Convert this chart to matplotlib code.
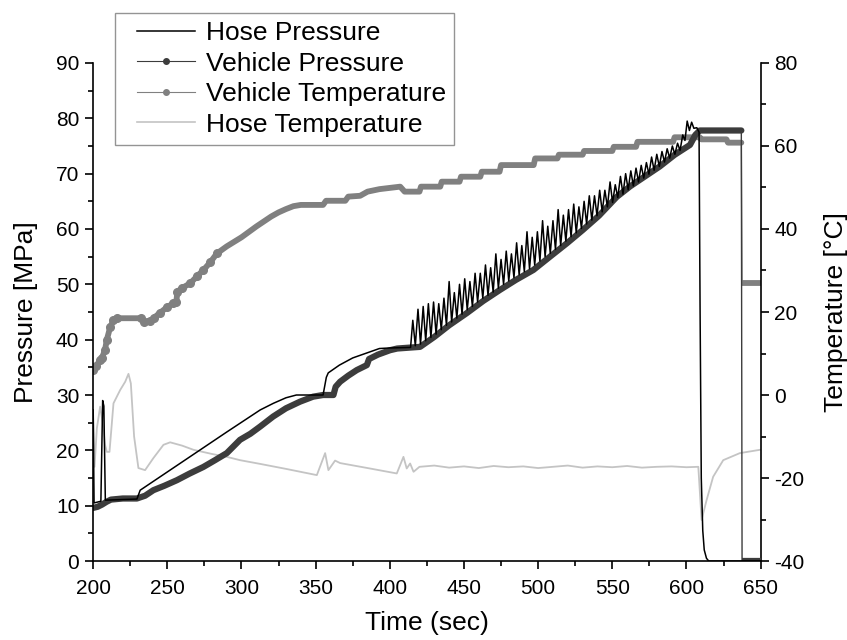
import matplotlib
matplotlib.use("Agg")
import matplotlib.pyplot as plt
from matplotlib.lines import Line2D
from matplotlib.legend_handler import HandlerLine2D

plt.rcParams['font.family'] = ['Liberation Sans', 'DejaVu Sans']
plt.rcParams['axes.unicode_minus'] = False

# ---------------- data ----------------
hose_p_t = [200.0, 200.6, 205.2, 206.4, 207.2, 208.2, 229.5, 231.7, 250.0, 270.0, 290.0, 299.0,
            312.6, 321.5, 330.0, 337.0, 355.0, 356.0, 357.2, 358.5, 366.0, 375.0, 384.5, 393.0,
            400.0, 414.0,
            415.5, 417.2, 419.0, 420.7, 422.5, 424.2, 426.0, 427.7, 429.5, 431.2, 433.0, 434.7,
            436.5, 438.2, 440.0, 441.7, 443.5, 445.2, 447.0, 448.7, 450.5, 452.2, 454.0, 455.7,
            457.5, 459.2, 461.0, 462.7, 464.5, 466.2, 468.0, 469.7, 471.5, 473.2, 475.0, 476.7,
            478.5, 480.2, 482.0, 483.7, 485.5, 487.2, 489.0, 490.7, 492.5, 494.2, 496.0, 497.7,
            499.5, 501.2, 503.0, 504.7, 506.5, 508.2, 510.0, 511.7, 513.5, 515.2, 517.0, 518.7,
            520.5, 522.2, 524.0, 525.7, 527.5, 529.2, 531.0, 532.7, 534.5, 536.2, 538.0, 539.7,
            541.5, 543.2, 545.0, 546.7, 548.5, 550.2, 552.0, 553.7, 555.5, 557.2, 559.0, 560.7,
            562.5, 564.2, 566.0, 567.7, 569.5, 571.2, 573.0, 574.7, 576.5, 578.2, 580.0, 581.7,
            583.5, 585.2, 587.0, 588.7, 590.5, 592.2, 594.0, 595.7, 597.5, 599.0, 600.5, 602.0,
            603.5, 605.0, 607.0, 608.5, 609.2, 610.0, 611.0, 612.0, 613.5, 615.0, 650.0]
hose_p = [27.3, 10.5, 10.8, 29.0, 28.0, 11.0, 11.2, 12.8, 16.1, 19.7, 23.3, 24.9,
          27.3, 28.5, 29.5, 30.0, 30.0, 31.5, 33.2, 34.0, 35.4, 36.7, 37.6, 38.4,
          38.5, 38.6,
          43.5, 38.9, 45.5, 39.2, 46.0, 39.8, 46.5, 40.4, 46.8, 41.0, 46.5, 41.8,
          47.5, 42.6, 50.5, 43.2, 48.5, 43.9, 50.0, 44.6, 51.0, 45.4, 50.5, 46.0,
          52.0, 46.8, 52.0, 47.5, 53.5, 48.0, 53.0, 48.6, 55.5, 49.3, 54.5, 50.0,
          56.0, 50.6, 55.5, 51.2, 57.5, 51.7, 57.0, 52.3, 59.5, 52.8, 58.5, 53.5,
          59.5, 54.2, 61.5, 55.0, 60.5, 55.6, 61.5, 56.3, 63.5, 57.0, 62.5, 57.8,
          63.5, 58.6, 64.5, 59.3, 64.0, 60.1, 65.0, 60.9, 66.0, 61.6, 66.0, 62.4,
          67.0, 63.1, 67.0, 64.0, 68.5, 64.8, 68.0, 65.7, 69.5, 66.3, 70.0, 67.1,
          70.5, 67.8, 71.0, 68.5, 71.5, 69.2, 72.0, 69.9, 73.0, 70.6, 73.5, 71.3,
          74.0, 72.1, 74.5, 72.8, 75.0, 73.5, 75.5, 74.2, 77.0, 76.0, 79.5, 77.8,
          79.3, 78.2, 78.3, 77.5, 45.0, 15.0, 5.5, 2.0, 0.5, 0.0, 0.0]

veh_p_t = [200.0, 203.0, 206.0, 209.0, 212.0, 220.0, 229.5, 235.0, 240.6, 248.0, 256.4, 265.0,
           274.3, 282.0, 290.1, 299.0, 306.0, 312.6, 321.3, 330.0, 339.5, 348.3, 355.0, 362.0,
           363.5, 366.5, 372.0, 377.7, 384.5, 386.0, 392.0, 400.2, 405.0, 420.4, 430.0, 440.0,
           451.9, 463.0, 474.3, 485.0, 496.8, 508.0, 519.3, 530.0, 541.0, 553.0, 562.0, 572.0,
           582.0, 592.0, 602.4, 606.0, 609.0, 637.0, 637.5, 650.0]
veh_p = [9.6, 9.8, 10.2, 10.7, 11.1, 11.3, 11.3, 11.8, 12.8, 13.6, 14.6, 15.8,
         17.0, 18.2, 19.5, 21.9, 23.0, 24.3, 26.1, 27.6, 28.8, 29.7, 30.0, 30.0,
         31.5, 32.4, 33.5, 34.5, 35.4, 36.5, 37.3, 38.1, 38.4, 38.7, 40.5, 42.6,
         44.8, 47.0, 49.0, 50.8, 52.6, 55.0, 57.4, 59.8, 62.4, 65.8, 67.7, 69.5,
         71.3, 73.4, 75.2, 77.0, 77.8, 77.8, 0.0, 0.0]

veh_t_t = [200.0, 202.0, 204.7, 206.0, 208.0, 209.2, 211.5, 213.7, 216.0, 232.0, 234.0, 238.4,
           241.0, 245.0, 250.0, 254.0, 256.0, 256.8, 260.0, 265.4, 270.0, 274.3, 279.0, 283.4,
           290.0, 300.0, 305.0, 310.0, 315.0, 320.0, 325.0, 330.0, 335.0, 340.0, 355.0, 357.0,
           370.0, 372.0, 380.0, 385.0, 393.0, 407.0, 410.0, 420.0, 421.0, 434.0, 435.0, 447.0,
           448.0, 461.0, 462.0, 474.0, 475.0, 497.0, 498.0, 513.0, 514.0, 530.0, 531.0, 550.0,
           551.0, 566.0, 567.0, 591.0, 592.0, 609.0, 610.0, 627.0, 628.0, 637.0, 637.5, 650.0]
veh_t = [6.0, 7.0, 8.4, 9.0, 10.9, 13.3, 16.4, 18.0, 18.5, 18.5, 17.7, 17.9,
         18.6, 19.8, 21.2, 22.1, 22.3, 24.9, 25.8, 26.9, 28.6, 30.1, 32.0, 34.1,
         35.8, 38.0, 39.3, 40.6, 41.8, 43.0, 44.0, 44.8, 45.5, 45.8, 45.8, 46.8,
         46.8, 47.8, 48.0, 49.0, 49.6, 50.2, 49.0, 49.0, 50.2, 50.2, 51.4, 51.4,
         52.6, 52.6, 53.8, 53.8, 55.4, 55.4, 57.0, 57.0, 57.9, 57.9, 58.8, 58.8,
         59.8, 59.8, 61.0, 61.0, 62.1, 62.1, 61.6, 61.6, 60.8, 60.8, 27.1, 27.1]

hose_t_t = [200.0, 200.9, 202.5, 204.7, 206.5, 208.0, 209.2, 211.0, 213.7, 218.2, 221.6, 223.8,
            225.4, 227.6, 230.5, 235.0, 240.6, 247.4, 251.9, 260.0, 267.6, 280.0, 290.1, 299.0,
            312.6, 330.0, 350.8, 356.4, 358.6, 363.1, 366.5, 385.0, 404.7, 409.2, 411.4, 413.7,
            416.0, 420.0, 430.0, 440.0, 450.0, 460.0, 470.0, 480.0, 490.0, 500.0, 510.0, 520.0,
            530.0, 540.0, 550.0, 560.0, 570.0, 580.0, 590.0, 600.0, 608.0, 610.2, 613.6, 618.0,
            624.8, 636.0, 649.6]
hose_t = [-5.0, -17.3, -8.0, -2.8, -6.8, -12.0, -13.7, -13.7, -2.0, 1.2, 3.2, 5.1,
          2.8, -10.0, -17.6, -18.1, -15.2, -12.0, -11.4, -12.2, -13.2, -14.2, -14.9, -15.7,
          -16.6, -17.8, -19.3, -14.0, -18.1, -15.8, -16.4, -17.6, -18.9, -14.9, -17.7, -16.5,
          -18.5, -17.3, -17.0, -17.5, -17.2, -17.6, -17.1, -17.4, -17.2, -17.6, -17.3, -17.0,
          -17.5, -17.2, -17.4, -17.1, -17.5, -17.3, -17.2, -17.4, -17.3, -30.1, -25.3, -19.7,
          -15.7, -14.0, -13.2]

x_ticks = [200, 250, 300, 350, 400, 450, 500, 550, 600, 650]
p_ticks = [0, 10, 20, 30, 40, 50, 60, 70, 80, 90]
t_ticks = [-40, -20, 0, 20, 40, 60, 80]

labels = ['Hose Pressure', 'Vehicle Pressure', 'Vehicle Temperature', 'Hose Temperature']

# ---------------- styles ----------------
c_hp = '#000000'
c_vp = '#3c3c3c'
c_vt = '#808080'
c_ht = '#c4c4c4'

fig = plt.figure(figsize=(8.47, 6.4), dpi=100)
ax1 = fig.add_axes([0.110, 0.1234, 0.788, 0.7782])
ax2 = ax1.twinx()
ax1.set_zorder(ax2.get_zorder() + 1)
ax1.patch.set_visible(False)

# temperature series (right axis)
ax2.plot(hose_t_t, hose_t, color=c_ht, lw=1.3)
ax2.plot(veh_t_t, veh_t, color=c_vt, lw=1.0)
ax2.plot(veh_t_t[:-2], veh_t[:-2], color=c_vt, lw=4.2, solid_capstyle='round',
         solid_joinstyle='round')
ax2.plot(veh_t_t[-2:], veh_t[-2:], color=c_vt, lw=4.2, solid_capstyle='butt')
ax2.plot(veh_t_t[:24], veh_t[:24], ls='none', marker='o', ms=5.5, color=c_vt)

# pressure series (left axis)
ax1.plot(veh_p_t, veh_p, color=c_vp, lw=1.0)
ax1.plot(veh_p_t[:-2], veh_p[:-2], color=c_vp, lw=4.5, solid_capstyle='round',
         solid_joinstyle='round')
ax1.plot(veh_p_t[-2:], veh_p[-2:], color=c_vp, lw=4.5, solid_capstyle='butt')
ax1.plot(hose_p_t, hose_p, color=c_hp, lw=1.1)

# axes
ax1.set_xlim(200, 650)
ax1.set_ylim(0, 90)
ax2.set_ylim(-40, 80)
ax1.set_xticks(x_ticks)
ax1.set_yticks(p_ticks)
ax2.set_yticks(t_ticks)
ax1.set_xticks([225 + 50 * i for i in range(9)], minor=True)
ax1.set_yticks([5 + 10 * i for i in range(9)], minor=True)
ax2.set_yticks([-30 + 20 * i for i in range(6)], minor=True)

for ax in (ax1, ax2):
    ax.spines['top'].set_visible(False)
    for s in ax.spines.values():
        s.set_linewidth(1.2)
    ax.tick_params(which='major', direction='out', length=6, width=1.2, labelsize=15, pad=4)
    ax.tick_params(which='minor', direction='out', length=3.5, width=1.2)
ax1.tick_params(axis='x', which='major', pad=7)
ax1.spines['right'].set_visible(False)
ax2.spines['left'].set_visible(False)
ax2.spines['bottom'].set_visible(False)
ax1.tick_params(axis='y', which='both', right=False)
ax2.tick_params(axis='y', which='both', left=False)

ax1.set_xlabel('Time (sec)', fontsize=19, labelpad=9)
ax1.set_ylabel('Pressure [MPa]', fontsize=19, labelpad=13)
ax2.set_ylabel('Temperature [°C]', fontsize=19, labelpad=14)

handles = [
    Line2D([], [], color=c_hp, lw=1.1),
    Line2D([], [], color=c_vp, lw=0.8, marker='o', ms=4),
    Line2D([], [], color=c_vt, lw=0.8, marker='o', ms=4),
    Line2D([], [], color=c_ht, lw=1.2),
]
leg = fig.legend(handles, labels, loc='upper left', bbox_to_anchor=(115 / 847, 1 - 13 / 640),
                 fontsize=19, frameon=True, fancybox=False, edgecolor='#7a7a7a',
                 handlelength=2.75, handletextpad=0.38, labelspacing=0.25, borderpad=0.3,
                 borderaxespad=0, handler_map={Line2D: HandlerLine2D(xpad=0.55)})
leg.get_frame().set_linewidth(1.0)

fig.savefig('out.png', dpi=100)
